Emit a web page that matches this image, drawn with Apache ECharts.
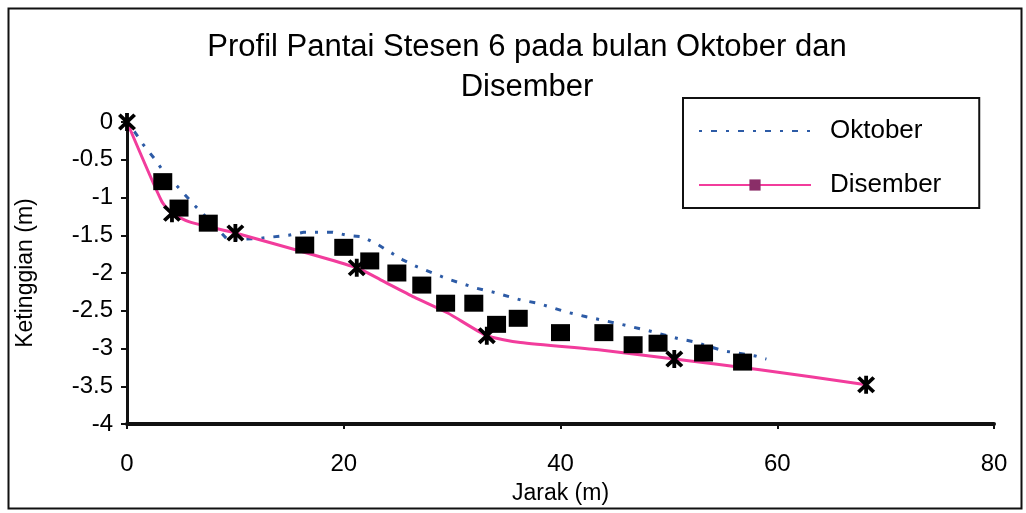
<!DOCTYPE html>
<html>
<head>
<meta charset="utf-8">
<script src="https://cdn.jsdelivr.net/npm/echarts@6/dist/echarts.min.js"></script>
<style>
html,body{margin:0;padding:0;background:#fff;}
#chart{width:1026px;height:513px;}
</style>
</head>
<body>
<div id="chart"></div>
<script>
// ---- data ----
const titleText = 'Profil Pantai Stesen 6 pada bulan Oktober dan\nDisember';
const xAxisName = 'Jarak (m)';
const yAxisName = 'Ketinggian (m)';

const oktoberX = [0, 0.8, 1.5, 2.5, 3.3, 5.2, 6.2, 7.1, 9.3, 12.3, 14.9, 16.3, 19.0, 20.3, 21.7, 23.1, 25.5, 26.8, 28.2, 29.6, 32.2, 33.7, 36.4, 37.9, 40.6, 42.1, 45.3, 48.0, 50.9, 52.3, 55.0, 58.0, 59.0];
const oktoberY = [0, -0.15, -0.30, -0.48, -0.64, -0.94, -1.10, -1.23, -1.56, -1.54, -1.50, -1.46, -1.46, -1.50, -1.52, -1.62, -1.83, -1.92, -2.00, -2.08, -2.20, -2.25, -2.36, -2.40, -2.52, -2.57, -2.67, -2.76, -2.87, -2.91, -3.03, -3.10, -3.14];

const disemberX = [0, 3.2, 4.15, 5.7, 7.6, 10.0, 21.2, 23.4, 26.5, 29.6, 33.2, 36.3, 43.7, 50.5, 58.4, 68.2];
const disemberY = [0, -1.05, -1.21, -1.32, -1.39, -1.47, -1.93, -2.09, -2.32, -2.53, -2.83, -2.92, -3.02, -3.14, -3.28, -3.48];

const starX = [0, 4.15, 10.0, 21.2, 33.2, 50.5, 68.2];
const starY = [0, -1.21, -1.47, -1.93, -2.83, -3.14, -3.48];

const squareX = [3.3, 4.8, 7.5, 16.4, 20.0, 22.4, 24.9, 27.2, 29.4, 32.0, 34.1, 36.1, 40.0, 44.0, 46.7, 49.0, 53.2, 56.8];
const squareY = [-0.79, -1.14, -1.34, -1.63, -1.66, -1.84, -2.00, -2.16, -2.40, -2.40, -2.68, -2.60, -2.79, -2.79, -2.95, -2.93, -3.06, -3.18];

const zip = (xs, ys) => xs.map((x, i) => [x, ys[i]]);

const FONT = '"Liberation Sans", Arial, sans-serif';
const asterisk = 'path://M8 0 L12 0 L12 20 L8 20 Z M0.6 3.4 L3.4 0.6 L19.4 16.6 L16.6 19.4 Z M16.6 0.6 L19.4 3.4 L3.4 19.4 L0.6 16.6 Z';

const chart = echarts.init(document.getElementById('chart'), null, {renderer: 'canvas'});
chart.setOption({
  backgroundColor: '#fff',
  animation: false,
  graphic: [{
    type: 'rect', left: 6, top: 6, silent: true, z: -1,
    shape: {width: 1013, height: 500},
    style: {fill: 'none', stroke: '#111', lineWidth: 2}
  }],
  title: {
    text: titleText,
    left: 522, top: 22, textAlign: 'center',
    textStyle: {fontFamily: FONT, fontSize: 31, fontWeight: 'normal', color: '#000', lineHeight: 40}
  },
  legend: {
    data: [
      {name: 'Oktober', itemStyle: {color: 'rgba(0,0,0,0)', borderWidth: 0}},
      {name: 'Disember'}
    ],
    orient: 'vertical',
    left: 683, top: 98,
    padding: [20, 38, 10, 15],
    itemGap: 28,
    itemWidth: 112, itemHeight: 14,
    borderColor: '#111', borderWidth: 2,
    backgroundColor: '#fff',
    textStyle: {fontFamily: FONT, fontSize: 26, color: '#000', lineHeight: 26, padding: [0, 0, 0, 14]}
  },
  grid: {left: 127, right: 32, top: 122, bottom: 89, containLabel: false},
  xAxis: {
    type: 'value', min: 0, max: 80, interval: 20,
    name: xAxisName, nameLocation: 'middle', nameGap: 58,
    nameTextStyle: {fontFamily: FONT, fontSize: 23, color: '#000'},
    axisLine: {show: true, onZero: false, lineStyle: {color: '#111', width: 4}},
    axisTick: {show: true, length: 5, lineStyle: {color: '#111', width: 2}},
    axisLabel: {fontFamily: FONT, fontSize: 24, color: '#000', margin: 28},
    splitLine: {show: false}
  },
  yAxis: {
    type: 'value', min: -4, max: 0, interval: 0.5,
    name: yAxisName, nameLocation: 'middle', nameGap: 90, nameRotate: 90,
    nameTextStyle: {fontFamily: FONT, fontSize: 23, color: '#000'},
    axisLine: {show: true, onZero: false, lineStyle: {color: '#111', width: 3}},
    axisTick: {show: true, length: 6, lineStyle: {color: '#111', width: 2}},
    axisLabel: {fontFamily: FONT, fontSize: 24, color: '#000', margin: 14},
    splitLine: {show: false}
  },
  series: [
    {
      name: 'Oktober', type: 'line', data: zip(oktoberX, oktoberY),
      symbol: 'none', z: 2,
      lineStyle: {color: '#2d5ba6', width: 3, type: [3, 9, 6, 9]},
      itemStyle: {color: '#2d5ba6'}
    },
    {
      name: 'Disember', type: 'line', data: zip(disemberX, disemberY),
      smooth: 0.2, symbol: 'rect', symbolSize: 10, showSymbol: false, z: 3,
      lineStyle: {color: '#f23c9c', width: 3},
      itemStyle: {color: '#8a2e68'}
    },
    {
      name: 'Oktober titik', type: 'scatter', data: zip(squareX, squareY),
      symbol: 'rect', symbolSize: [19, 17], z: 4,
      itemStyle: {color: '#000', opacity: 1}
    },
    {
      name: 'Disember titik', type: 'scatter', data: zip(starX, starY),
      symbol: asterisk, symbolSize: 18, z: 5,
      itemStyle: {color: '#000', opacity: 1}
    }
  ]
});
</script>
</body>
</html>
